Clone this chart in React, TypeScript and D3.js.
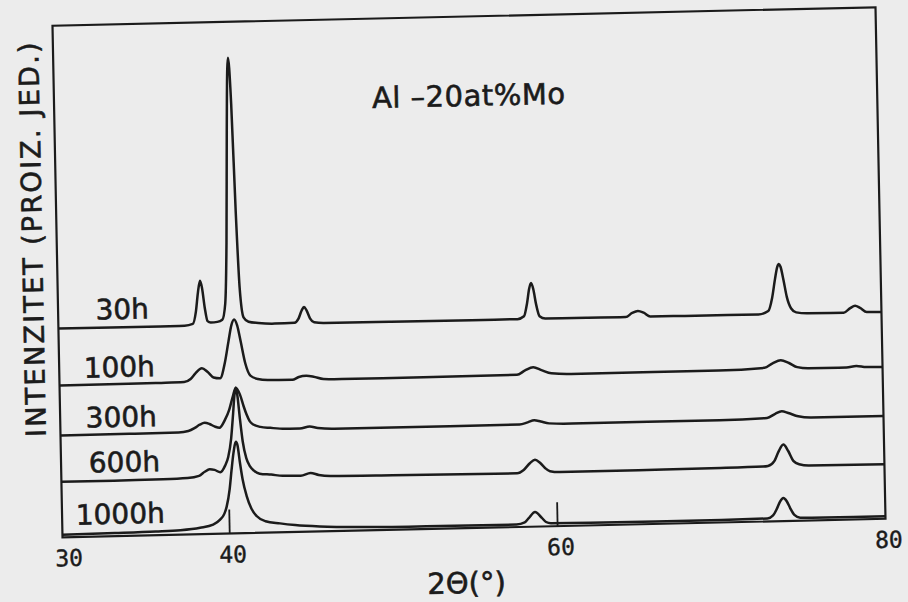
import React from "react";
import * as d3 from "d3";

// 2θ (deg), intensity (arbitrary units, traces offset vertically)
const trace30h: [number, number][] = [
  [29.8, 209], [33, 208.9], [36, 208.8], [37.5, 208.9], [38.0, 210.5], [38.2, 222.5], [38.35, 242], [38.49, 253.5],
  [38.6, 246.5], [38.75, 226], [38.9, 213], [39.1, 211.5], [39.5, 212], [39.8, 214], [40.0, 230], [40.15, 291],
  [40.3, 403], [40.4, 464], [40.46, 476], [40.52, 466], [40.6, 430], [40.75, 321], [40.9, 245], [41.1, 216],
  [41.4, 211.5], [42, 210], [43, 209], [44.2, 209.5], [44.45, 213.5], [44.65, 221.5], [44.8, 225], [44.95, 221.5],
  [45.15, 213.5], [45.4, 209.5], [46, 208.5], [50, 208.2], [55, 208], [57.8, 208], [58.2, 210.7], [58.4, 223.5],
  [58.55, 238.4], [58.67, 243.8], [58.8, 237.5], [58.95, 222.6], [59.15, 210.4], [59.5, 208], [62, 207.9],
  [64.4, 207.6], [64.8, 211.6], [65.15, 213.5], [65.5, 211.6], [65.9, 207.6], [68, 207.5], [72.5, 207.3],
  [73.1, 210.5], [73.35, 223.5], [73.55, 242.5], [73.7, 254.5], [73.8, 257.3], [73.9, 254.5], [74.05, 242.5],
  [74.25, 224], [74.5, 212.5], [74.8, 208.5], [75.5, 207.3], [77.7, 207.1], [78.1, 211.5], [78.4, 213.8],
  [78.7, 211.5], [79.1, 207.2], [80, 207],
];

const trace100h: [number, number][] = [
  [29.8, 152], [34, 152], [36, 152.2], [37.4, 152.6], [37.8, 155.5], [38.1, 161], [38.5, 166], [38.85, 162],
  [39.2, 156.5], [39.6, 155.5], [39.9, 170.5], [40.15, 192], [40.35, 208.5], [40.52, 214], [40.7, 208],
  [40.9, 191.5], [41.15, 170], [41.45, 157.5], [41.9, 154], [42.5, 152.8], [44, 152.3], [44.4, 155], [44.85, 156],
  [45.3, 155], [45.9, 152.5], [47, 152], [52, 152], [57.7, 152.3], [58.2, 156.5], [58.7, 159.5], [59.2, 156.5],
  [59.8, 153], [61, 152], [66, 152], [70, 152], [72.8, 153.7], [73.3, 158], [73.8, 161], [74.3, 158],
  [74.8, 153.7], [75.5, 152.3], [77.8, 152.2], [78.4, 153.5], [79, 152.2], [80, 152],
];

const trace300h: [number, number][] = [
  [29.8, 101.8], [34, 102], [37, 102.2], [37.6, 103.5], [38.0, 106.5], [38.3, 109.5], [38.6, 111.3], [38.9, 110],
  [39.2, 107.5], [39.5, 106], [39.85, 114], [40.12, 124], [40.35, 137], [40.54, 145.7], [40.79, 138.7],
  [41.0, 127], [41.17, 118.6], [41.35, 112], [41.57, 108.5], [42.0, 106], [42.6, 104.8], [43.5, 103.5],
  [44.4, 103.4], [45.0, 105.3], [45.5, 103.5], [46.5, 102.5], [50, 102.3], [57.8, 102.5], [58.3, 104.5],
  [58.7, 106.5], [59.1, 105], [59.6, 103], [61, 102.3], [70, 102.4], [72.9, 103.5], [73.4, 107.5], [73.8, 109.8],
  [74.2, 108], [74.8, 104.5], [75.6, 103], [80, 102.8],
];

const trace600h: [number, number][] = [
  [29.8, 55.5], [33, 55.5], [36, 55.8], [37.5, 56.5], [38.2, 58.4], [38.55, 62.3], [38.85, 64.8], [39.15, 64],
  [39.5, 61.5], [39.8, 68], [40.0, 76.5], [40.2, 95], [40.35, 120], [40.45, 138], [40.54, 145.7], [40.63, 138],
  [40.75, 116], [40.9, 92], [41.1, 75], [41.32, 66.7], [41.55, 62.4], [41.9, 59.2], [42.6, 58], [43.3, 56.5],
  [44.4, 56.2], [45.0, 58.8], [45.5, 56.5], [46.2, 55.2], [50, 54.5], [57.6, 53.8], [58.0, 57], [58.4, 63.8],
  [58.7, 66.8], [59.0, 63.8], [59.3, 58.5], [59.6, 55.1], [60.2, 54], [65, 54.2], [70, 54.5], [72.6, 55],
  [72.9, 55.5], [73.3, 60.4], [73.55, 69.3], [73.86, 76.5], [74.15, 70], [74.45, 60], [74.8, 56.5], [75.4, 55],
  [80, 54.5],
];

const trace1000h: [number, number][] = [
  [29.8, 2.6], [33, 3], [35.5, 3.6], [37, 4.4], [38.2, 6.4], [39.0, 9.3], [39.43, 14.1], [39.7, 20], [39.85, 27.2],
  [40.05, 44.5], [40.19, 63.8], [40.32, 80], [40.42, 89], [40.49, 91.7], [40.58, 88], [40.71, 70.3], [40.85, 54],
  [41.08, 37.1], [41.35, 24.5], [41.66, 16.9], [42.2, 11.5], [43.08, 9], [44, 7], [45.5, 5], [48, 3.5], [52, 2.8],
  [57.5, 2.5], [58.0, 4.4], [58.25, 8.6], [58.64, 14.7], [59.05, 8.6], [59.3, 4.4], [59.6, 3], [62, 2.6],
  [70, 2.5], [72.8, 3], [73.15, 5.9], [73.4, 12.8], [73.6, 19.8], [73.8, 23.1], [74.0, 19.8], [74.2, 12.8],
  [74.45, 5.9], [74.8, 3], [75.5, 2.6], [80, 2.4],
];

const traces = [trace30h, trace100h, trace300h, trace600h, trace1000h];
const traceLabels = ["30h", "100h", "300h", "600h", "1000h"];
const xTicks = [30, 40, 60, 80];
const innerTicks = [40, 60];

const title = "Al –20at%Mo";
const xTitle = "2Θ(°)";
const yTitle = "INTENZITET (PROIZ. JED.)";

export default function App() {
  const W = 908;
  const H = 602;
  const left = 63, right = 886, top = 27, bottom = 539;
  const x = d3.scaleLinear().domain([29.8, 80]).range([left, right]);
  const y = d3.scaleLinear().domain([0, 512]).range([bottom, top]);
  const line = d3
    .line<[number, number]>()
    .x((d) => x(d[0]))
    .y((d) => y(d[1]))
    .curve(d3.curveMonotoneX);

  const ink = "#1b1b1b";
  const textStroke = { stroke: ink, strokeWidth: 0.6 };
  // label positions (left x, baseline y) in plot-local coordinates
  const labelPos: [number, number][] = [
    [100.5, 322],
    [87.5, 379.8],
    [88.5, 429.8],
    [90.8, 474.9],
    [76.7, 526.7],
  ];

  return (
    <svg
      width={W}
      height={H}
      style={{ position: "absolute", left: 0, top: 0, display: "block" }}
    >
      <rect x={0} y={0} width={W} height={H} fill="#ececec" />
      <g transform="matrix(1,-0.02248,0.01953,0.999,-11.03,0.21)">
        <rect
          x={left}
          y={top}
          width={right - left}
          height={bottom - top}
          fill="none"
          stroke={ink}
          strokeWidth={2.2}
        />
        {innerTicks.map((t) => (
          <line
            key={t}
            x1={x(t)}
            x2={x(t)}
            y1={bottom}
            y2={bottom - 24}
            stroke={ink}
            strokeWidth={1.8}
          />
        ))}
        {traces.map((tr, i) => (
          <path
            key={i}
            d={line(tr) || ""}
            fill="none"
            stroke={ink}
            strokeWidth={2.5}
            strokeLinejoin="round"
          />
        ))}
        {traceLabels.map((lab, i) => (
          <text
            key={lab}
            x={labelPos[i][0]}
            y={labelPos[i][1]}
            fontFamily="DejaVu Sans"
            fontSize={28}
            fill={ink}
            {...textStroke}
          >
            {lab}
          </text>
        ))}
        {xTicks.map((t) => (
          <text
            key={t}
            x={x(t) + 3}
            y={568}
            textAnchor="middle"
            fontFamily="DejaVu Sans Mono"
            fontSize={23}
            fill={ink}
            stroke={ink}
            strokeWidth={0.4}
          >
            {t}
          </text>
        ))}
        <text
          x={477.5}
          y={116.5}
          textAnchor="middle"
          fontFamily="DejaVu Sans"
          fontSize={29}
          fill={ink}
          textLength={193}
          lengthAdjust="spacing"
          {...textStroke}
        >
          {title}
        </text>
        <text
          x={466}
          y={604}
          textAnchor="middle"
          fontFamily="DejaVu Sans"
          fontSize={29}
          fill={ink}
          {...textStroke}
        >
          {xTitle}
        </text>
        <text
          transform="translate(48.3,240.7) rotate(-90)"
          textAnchor="middle"
          fontFamily="DejaVu Sans"
          fontSize={27.5}
          fill={ink}
          textLength={395}
          lengthAdjust="spacing"
          {...textStroke}
        >
          {yTitle}
        </text>
      </g>
    </svg>
  );
}
